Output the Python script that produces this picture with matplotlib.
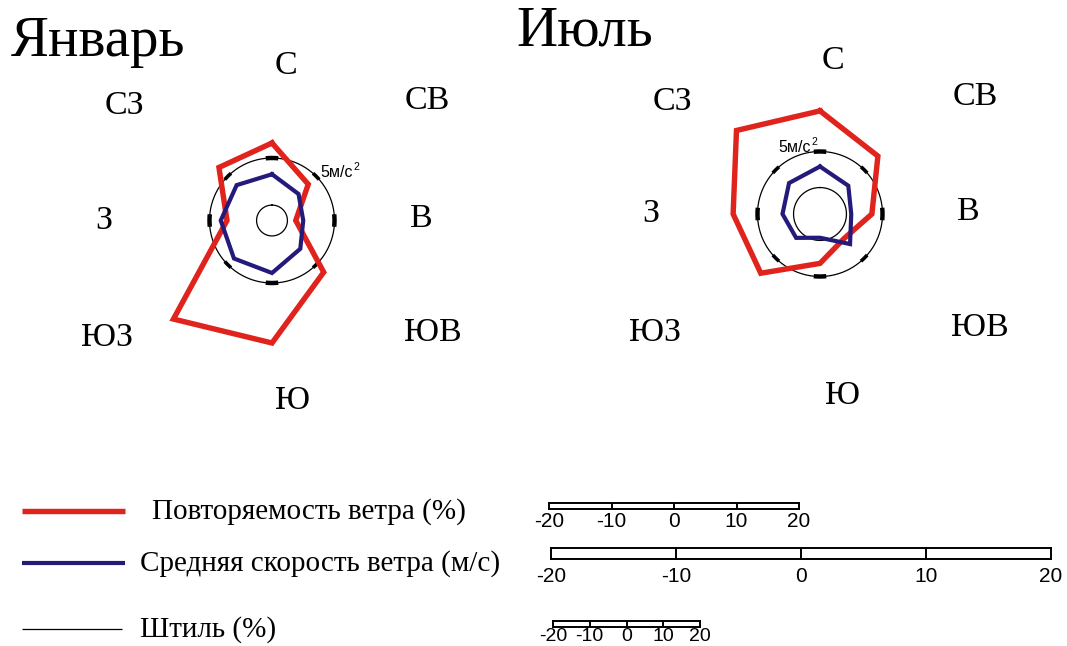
import numpy as np
import matplotlib
matplotlib.use("Agg")
import matplotlib.pyplot as plt
from matplotlib.lines import Line2D

# ---------------- data ----------------
directions = ['С', 'СВ', 'В', 'ЮВ', 'Ю', 'ЮЗ', 'З', 'СЗ']
jan_freq = [12.4, 8.2, 3.8, 11.7, 19.6, 22.3, 7.2, 12.0]     # %
jan_speed = [3.7, 3.0, 2.5, 3.2, 4.2, 4.3, 4.1, 4.0]         # m/s
jan_calm = 4.2                                               # %
jul_freq = [16.5, 13.1, 8.3, 5.5, 7.9, 13.4, 13.9, 18.9]
jul_speed = [3.8, 3.2, 2.5, 3.4, 1.9, 2.7, 3.0, 3.5]
jul_calm = 7.2
ref_speed = 5            # reference circle, m/s
scale_ticks = [-20, -10, 0, 10, 20]
titles = ['Январь', 'Июль']
legend_labels = ['Повторяемость ветра (%)', 'Средняя скорость ветра (м/с)', 'Штиль (%)']

# pixels per unit of each quantity (from the scale bars)
PX_FREQ = 6.25
PX_SPEED = 12.5
PX_CALM = 3.675

W, H = 1067, 646
fig = plt.figure(figsize=(W / 100, H / 100), dpi=100)
fig.patch.set_facecolor('white')

SERIF = 'Liberation Serif'
SANS = 'Liberation Sans'
RED = '#e0231c'
BLUE = '#241a7a'


def fx(x):
    return x / W


def fy(y):
    return 1 - y / H


def rose(cx, cy, freq, speed, calm):
    half = 190
    ax = fig.add_axes([fx(cx - half), fy(cy + half), 2 * half / W, 2 * half / H],
                      projection='polar')
    ax.set_theta_zero_location('N')
    ax.set_theta_direction(-1)
    ax.set_rlim(0, half / PX_SPEED)
    ax.axis('off')
    th = np.deg2rad(np.arange(0, 360, 45))
    thc = np.append(th, th[0])
    circ = np.linspace(0, 2 * np.pi, 400)
    # calm circle
    ax.plot(circ, np.full_like(circ, calm * PX_CALM / PX_SPEED), color='black', lw=0.9, zorder=2)
    # reference 5 m/s circle
    ax.plot(circ, np.full_like(circ, ref_speed), color='black', lw=0.9, zorder=2)
    for i, t in enumerate(th):
        d = 0.1 if i % 2 == 0 else 0.07
        w = 3.2 if i % 2 == 0 else 2.6
        seg = np.linspace(t - d, t + d, 10)
        ax.plot(seg, np.full_like(seg, ref_speed), color='black', lw=w,
                solid_capstyle='butt', zorder=2)
    fr = np.array(freq + freq[:1]) * PX_FREQ / PX_SPEED
    sp = np.array(speed + speed[:1])
    ax.plot(thc, fr, color=RED, lw=3.9, solid_joinstyle='miter', zorder=3)
    ax.plot(thc, sp, color=BLUE, lw=3.0, solid_joinstyle='miter', zorder=4)
    return ax


rose(272, 220.5, jan_freq, jan_speed, jan_calm)
rose(820, 214, jul_freq, jul_speed, jul_calm)

# direction labels
jan_pos = [(286, 66), (427, 101), (421, 219), (433, 333), (293, 401), (107, 338), (104, 221), (124, 106)]
jul_pos = [(833, 61), (975, 97), (968, 212), (980, 328), (842, 396), (655, 333), (651, 214), (672, 102)]
for lab, (x, y) in zip(directions, jan_pos):
    fig.text(fx(x), fy(y), lab, family=SERIF, fontsize=24.5, ha='center', va='center')
for lab, (x, y) in zip(directions, jul_pos):
    fig.text(fx(x), fy(y), lab, family=SERIF, fontsize=24.5, ha='center', va='center')

# reference circle labels
for (x, y) in [(320, 177), (778, 152)]:
    fig.text(fx(x), fy(y), '5м/с', family=SANS, fontsize=11.5, ha='left', va='baseline')
    fig.text(fx(x + 33), fy(y - 7), '2', family=SANS, fontsize=7.5, ha='left', va='baseline')

# titles
fig.text(fx(11), fy(56), titles[0], family=SERIF, fontsize=41, ha='left', va='baseline')
fig.text(fx(516), fy(45), titles[1], family=SERIF, fontsize=41, ha='left', va='baseline')

# legend
leg = [(511, RED, 3.9, 22, 125, 152), (563, BLUE, 3.0, 22, 125, 140), (629, 'black', 0.9, 22, 122, 140)]
for (y, c, lw, x0, x1, tx), lab in zip(leg, legend_labels):
    fig.add_artist(Line2D([fx(x0), fx(x1)], [fy(y), fy(y)], color=c, lw=lw,
                          solid_capstyle='butt', transform=fig.transFigure))
    fig.text(fx(tx), fy(y + 1), lab, family=SERIF, fontsize=21, ha='left', va='center')


# scale bars
def scale_bar(x0, ytop, px, hgt, pad, fs):
    width = 40 * px
    ax = fig.add_axes([fx(x0), fy(ytop + hgt), width / W, hgt / H])
    ax.set_xlim(scale_ticks[0], scale_ticks[-1])
    ax.set_ylim(0, 1)
    for s in ax.spines.values():
        s.set_linewidth(1.4)
    for t in scale_ticks[1:-1]:
        ax.axvline(t, color='black', lw=1.4)
    ax.set_yticks([])
    ax.set_xticks(scale_ticks)
    ax.set_xticklabels([str(t) for t in scale_ticks], family=SANS, fontsize=fs)
    ax.tick_params(axis='x', length=0, pad=pad)
    return ax


scale_bar(549, 503, PX_FREQ, 6, 2, 15)
scale_bar(551, 548, PX_SPEED, 11, 6, 15)
scale_bar(553, 621, PX_CALM, 6, 1, 14)

fig.savefig('out.png', dpi=100, facecolor='white')
